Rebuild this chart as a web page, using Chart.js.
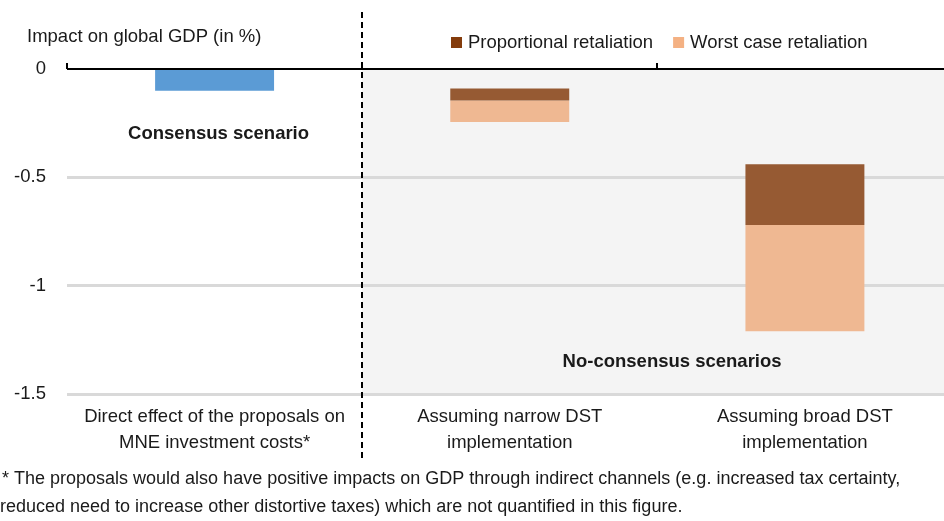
<!DOCTYPE html>
<html>
<head>
<meta charset="utf-8">
<script src="https://cdn.jsdelivr.net/npm/chart.js@4"></script>
<style>
  html, body { margin: 0; padding: 0; overflow: hidden; background: #fff; }
  #wrap { position: absolute; left: 0; top: 0; width: 960px; height: 521px; }
</style>
</head>
<body>
<div id="wrap"><canvas id="chart" width="960" height="521"></canvas></div>
<script>
// categories (x axis, two lines each)
const categories = [
    ['Direct effect of the proposals on', 'MNE investment costs*'],
    ['Assuming narrow DST', 'implementation'],
    ['Assuming broad DST', 'implementation']
];
// floating bars: [top, bottom] in % of global GDP
const consensus = [[0, -0.1], null, null];
const proportional = [null, [-0.09, -0.145], [-0.44, -0.72]];
const worstCase = [null, [-0.145, -0.245], [-0.72, -1.21]];
const yTicks = [0, -0.5, -1, -1.5];

const FONT = 'Liberation Sans, Arial, sans-serif';
const TEXT = '#1a1a1a';

const backdrop = {
    id: 'backdrop',
    beforeDraw(chart) {
        const ctx = chart.ctx;
        const area = chart.chartArea;
        const x = chart.scales.x;
        const left = x.getPixelForValue(0.5);
        ctx.save();
        ctx.fillStyle = '#f4f4f4';
        ctx.fillRect(left, area.top, area.right - left, area.bottom - area.top);
        ctx.restore();
    },
    afterDraw(chart) {
        const ctx = chart.ctx;
        const x = chart.scales.x;
        const y = chart.scales.y;
        const zero = y.getPixelForValue(0);
        ctx.save();

        // small ticks above the zero line
        ctx.strokeStyle = '#000';
        ctx.lineWidth = 2;
        [-0.5, 1.5].forEach(v => {
            const px = Math.round(x.getPixelForValue(v));
            ctx.beginPath();
            ctx.moveTo(px, zero - 6);
            ctx.lineTo(px, zero);
            ctx.stroke();
        });

        // dashed divider between scenarios
        const div = Math.round(x.getPixelForValue(0.5));
        ctx.setLineDash([6, 4]);
        ctx.beginPath();
        ctx.moveTo(div, 12);
        ctx.lineTo(div, 459);
        ctx.stroke();
        ctx.setLineDash([]);

        // y axis title
        ctx.fillStyle = TEXT;
        ctx.font = '18.5px ' + FONT;
        ctx.textBaseline = 'middle';
        ctx.textAlign = 'left';
        ctx.fillText('Impact on global GDP (in %)', 27, 37);

        // legend
        let lx = 451;
        [1, 2].forEach(i => {
            const ds = chart.data.datasets[i];
            ctx.fillStyle = ds.legendColor;
            ctx.fillRect(lx, 37, 11, 11);
            ctx.fillStyle = TEXT;
            ctx.fillText(ds.label, lx + 17, 43);
            lx += 17 + ctx.measureText(ds.label).width + 20;
        });

        // scenario annotations
        ctx.font = 'bold 18.5px ' + FONT;
        ctx.textAlign = 'center';
        ctx.fillText('Consensus scenario', x.getPixelForValue(0) + 4, y.getPixelForValue(-0.3));
        ctx.fillText('No-consensus scenarios', x.getPixelForValue(1.55), y.getPixelForValue(-1.35));

        // footnote
        ctx.font = '18px ' + FONT;
        ctx.textAlign = 'left';
        ctx.fillText('* The proposals would also have positive impacts on GDP through indirect channels (e.g. increased tax certainty,', 2, 479);
        ctx.fillText('reduced need to increase other distortive taxes) which are not quantified in this figure.', 0, 507);
        ctx.restore();
    }
};

const barOpts = { grouped: false, barPercentage: 0.403, categoryPercentage: 1, borderWidth: 0 };

new Chart(document.getElementById('chart'), {
    type: 'bar',
    data: {
        labels: categories,
        datasets: [
            { label: 'Consensus', data: consensus, backgroundColor: '#5b9bd5', ...barOpts },
            { label: 'Proportional retaliation', data: proportional, backgroundColor: '#965a33', legendColor: '#843c0c', ...barOpts },
            { label: 'Worst case retaliation', data: worstCase, backgroundColor: '#efb892', legendColor: '#f4b183', ...barOpts }
        ]
    },
    options: {
        responsive: false,
        animation: false,
        layout: { padding: { top: 69, right: 7.5, bottom: 0, left: 0 } },
        plugins: {
            legend: { display: false },
            tooltip: { enabled: false }
        },
        scales: {
            x: {
                grid: { display: false },
                border: { display: false },
                ticks: {
                    color: TEXT,
                    font: { family: FONT, size: 18.5, lineHeight: 1.4 },
                    padding: 2,
                    maxRotation: 0,
                    autoSkip: false
                },
                afterFit(scale) { scale.height = 127; }
            },
            y: {
                min: -1.5,
                max: 0,
                afterBuildTicks(scale) { scale.ticks = yTicks.map(v => ({ value: v })); },
                grid: {
                    drawTicks: false,
                    color: c => c.tick.value === 0 ? '#000' : '#d9d9d9',
                    lineWidth: c => c.tick.value === 0 ? 2 : 3
                },
                border: { display: false },
                ticks: {
                    color: TEXT,
                    font: { family: FONT, size: 18.5 },
                    padding: 21,
                    callback: v => String(v)
                },
                afterFit(scale) { scale.width = 67; }
            }
        }
    },
    plugins: [backdrop]
});
</script>
</body>
</html>
